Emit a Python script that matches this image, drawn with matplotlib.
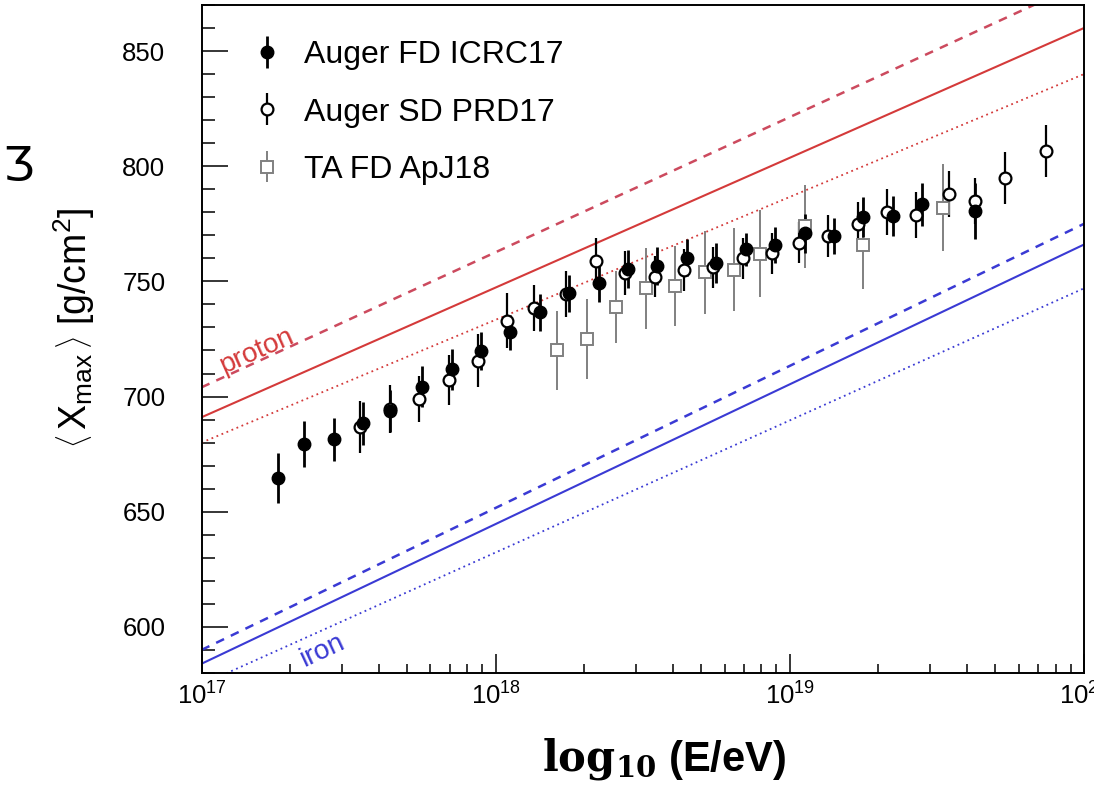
import numpy as np
import matplotlib.pyplot as plt

plt.rcParams['font.family'] = ['Liberation Sans', 'DejaVu Sans']
plt.rcParams['mathtext.fontset'] = 'custom'
plt.rcParams['mathtext.rm'] = 'Liberation Sans'
plt.rcParams['mathtext.it'] = 'Liberation Sans'
plt.rcParams['mathtext.bf'] = 'Liberation Sans:bold'

#%% data (lg E, <Xmax>, error)
fd_lge = [17.26, 17.35, 17.45, 17.55, 17.64, 17.75, 17.85, 17.95, 18.05, 18.15, 18.25, 18.35,
          18.45, 18.55, 18.65, 18.75, 18.85, 18.95, 19.05, 19.15, 19.25, 19.35, 19.45, 19.63]
fd_xmax = [664.7, 679.4, 681.4, 688.4, 693.8, 704.3, 711.8, 719.8, 728.0, 736.6, 744.8, 749.2,
           755.5, 756.7, 760.3, 758.1, 763.9, 765.8, 770.9, 769.7, 778.1, 778.4, 783.4, 780.6]
fd_err = [10.9, 9.8, 9.5, 9.4, 9.2, 8.8, 8.8, 8.3, 7.6, 8.0, 8.0, 8.0,
          8.3, 8.3, 8.0, 8.7, 7.2, 8.0, 8.5, 8.0, 8.7, 8.7, 9.5, 12.0]

sd_lge = [17.54, 17.64, 17.74, 17.84, 17.94, 18.04, 18.13, 18.24, 18.34, 18.44, 18.54, 18.64,
          18.74, 18.84, 18.94, 19.03, 19.13, 19.23, 19.33, 19.43, 19.54, 19.63, 19.73, 19.87]
sd_xmax = [686.9, 694.5, 698.8, 707.2, 715.6, 732.9, 738.3, 744.5, 759.0, 753.8, 752.0, 754.9,
           756.1, 760.0, 762.2, 766.8, 769.7, 774.9, 780.2, 778.8, 787.9, 785.0, 794.7, 806.7]
sd_err = [11.3, 10.5, 10.0, 11.0, 11.6, 12.0, 10.0, 10.0, 10.0, 9.5, 9.0, 9.0,
          9.0, 9.0, 9.0, 9.0, 9.0, 9.5, 10.0, 10.0, 10.0, 10.0, 11.3, 11.4]

ta_lge = [18.21, 18.31, 18.41, 18.51, 18.61, 18.71, 18.81, 18.90, 19.05, 19.25, 19.52]
ta_xmax = [720.0, 725.0, 739.0, 747.0, 748.0, 754.0, 755.0, 762.0, 774.0, 766.0, 782.0]
ta_err = [17.0, 17.4, 15.6, 17.7, 17.5, 18.0, 18.0, 18.8, 18.0, 19.5, 18.8]

# model predictions at the two ends of the energy range
model_e = [1e17, 1e20]
proton_solid = [691, 860]
proton_dashed = [704, 880]
proton_dotted = [680, 840]
iron_solid = [584, 766]
iron_dashed = [590, 775]
iron_dotted = [575, 747]

#%%
fig = plt.figure(figsize=(10.94, 7.86), dpi=100)
ax = fig.add_axes([0.1842, 0.1438, 0.8067, 0.8499])

red = '#d43a3a'
red_dash = '#cc4a5e'
blue = '#3a3ad4'
ax.plot(model_e, proton_solid, color=red, lw=1.5)
ax.plot(model_e, proton_dashed, color=red_dash, lw=1.8, dashes=(3.5, 3))
ax.plot(model_e, proton_dotted, color=red, lw=1.3, dashes=(1, 2))
ax.plot(model_e, iron_solid, color=blue, lw=1.5)
ax.plot(model_e, iron_dashed, color=blue, lw=1.8, dashes=(3.5, 3))
ax.plot(model_e, iron_dotted, color=blue, lw=1.3, dashes=(1, 2))

ta = ax.errorbar(10 ** np.array(ta_lge), ta_xmax, yerr=ta_err, fmt='s', ms=8,
                 mfc='white', mec='#808080', mew=1.4, ecolor='#808080', elinewidth=1.4,
                 capsize=0, label='TA FD ApJ18')
sd = ax.errorbar(10 ** np.array(sd_lge), sd_xmax, yerr=sd_err, fmt='o', ms=8.5,
                 mfc='white', mec='black', mew=1.6, ecolor='black', elinewidth=1.6,
                 capsize=0, label='Auger SD PRD17')
fd = ax.errorbar(10 ** np.array(fd_lge), fd_xmax, yerr=fd_err, fmt='o', ms=9,
                 mfc='black', mec='black', ecolor='black', elinewidth=2.0,
                 capsize=0, label='Auger FD ICRC17')

ax.text(10 ** 17.075, 710, 'proton', color=red, fontsize=20, rotation=24,
        rotation_mode='anchor', ha='left', va='baseline')
ax.text(10 ** 17.35, 582.5, 'iron', color=blue, fontsize=20, rotation=25,
        rotation_mode='anchor', ha='left', va='baseline')

ax.set_xscale('log')
ax.set_xlim(1e17, 1e20)
ax.set_ylim(580, 870)
ax.set_yticks([600, 650, 700, 750, 800, 850])
ax.set_yticks(np.arange(580, 871, 10), minor=True)

ax.tick_params(axis='both', which='both', direction='in', width=1.1, labelsize=18.5)
ax.tick_params(axis='y', which='major', length=19, pad=26)
ax.tick_params(axis='y', which='minor', length=9.5)
ax.tick_params(axis='x', which='major', length=13.5, pad=7)
ax.tick_params(axis='x', which='minor', length=6.5)
for s in ax.spines.values():
    s.set_linewidth(1.4)

leg = ax.legend(handles=[fd, sd, ta], loc='upper left', frameon=False, fontsize=23,
                bbox_to_anchor=(0.02, 0.99), handlelength=1.2, handletextpad=0.55,
                labelspacing=0.85)

fig.text(0.068, 0.583, r'$\left\langle\,X_{\rm max}\,\right\rangle$ [g/cm$^2$]', rotation=90,
         fontsize=27, ha='center', va='center')
fig.text(0.607, 0.034, r'$\mathbf{log_{10}}$ (E/eV)', fontsize=30, fontweight='bold',
         math_fontfamily='dejavuserif', ha='center', va='center')
fig.text(0.002, 0.787, 'Ʒ', fontsize=34, family='DejaVu Sans', ha='left', va='center')

fig.savefig('out.png', dpi=100)
